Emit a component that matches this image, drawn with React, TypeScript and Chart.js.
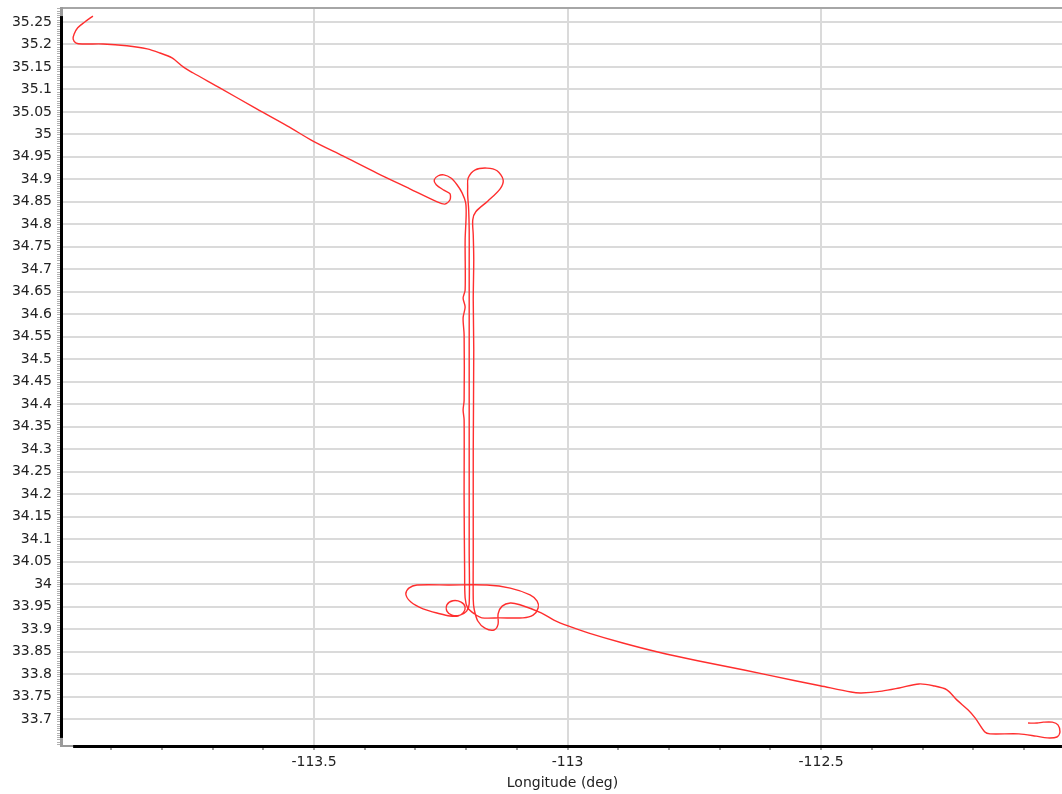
import React, { useEffect, useRef } from "react";
import { Chart, registerables } from "chart.js";

Chart.register(...registerables);

// Track longitude (deg), in flight order
const LON: number[] = [
  -113.936, -113.952, -113.966, -113.973, -113.975, -113.969, -113.956, -113.916,
  -113.869, -113.829, -113.804, -113.78, -113.758, -113.739, -113.685, -113.62,
  -113.553, -113.502, -113.443, -113.376, -113.311, -113.257, -113.242, -113.232,
  -113.232, -113.244, -113.259, -113.263, -113.255, -113.244, -113.23, -113.218,
  -113.208, -113.201, -113.2, -113.202, -113.202, -113.206, -113.202, -113.206,
  -113.204, -113.204, -113.206, -113.204, -113.204, -113.203, -113.202, -113.197,
  -113.184, -113.169, -113.133, -113.088, -113.068, -113.058, -113.06, -113.074,
  -113.113, -113.159, -113.232, -113.297, -113.313, -113.319, -113.309, -113.285,
  -113.252, -113.232, -113.216, -113.206, -113.202, -113.21, -113.226, -113.238,
  -113.238, -113.228, -113.212, -113.199, -113.194, -113.194, -113.194, -113.194,
  -113.194, -113.194, -113.195, -113.197, -113.197, -113.196, -113.182, -113.159,
  -113.139, -113.127, -113.133, -113.157, -113.181, -113.187, -113.186, -113.185,
  -113.186, -113.185, -113.186, -113.186, -113.186, -113.184, -113.177, -113.163,
  -113.145, -113.137, -113.137, -113.129, -113.113, -113.094, -113.052, -113.027,
  -112.999, -112.958, -112.891, -112.822, -112.741, -112.652, -112.551, -112.502,
  -112.441, -112.421, -112.38, -112.346, -112.307, -112.279, -112.252, -112.232,
  -112.21, -112.196, -112.177, -112.167, -112.11, -112.076, -112.054, -112.035,
  -112.029, -112.033, -112.044, -112.062, -112.074, -112.092,
];

// Track latitude (deg), same order
const LAT: number[] = [
  35.263, 35.25, 35.237, 35.223, 35.212, 35.203, 35.201, 35.201,
  35.197, 35.19, 35.181, 35.17, 35.15, 35.137, 35.103, 35.061,
  35.019, 34.985, 34.952, 34.914, 34.879, 34.85, 34.845, 34.854,
  34.868, 34.876, 34.888, 34.899, 34.908, 34.91, 34.903, 34.888,
  34.87, 34.848, 34.821, 34.765, 34.654, 34.636, 34.616, 34.592,
  34.554, 34.409, 34.387, 34.365, 34.187, 34.031, 33.969, 33.947,
  33.934, 33.925, 33.925, 33.925, 33.931, 33.947, 33.962, 33.976,
  33.991, 33.998, 33.998, 33.998, 33.991, 33.978, 33.96, 33.945,
  33.934, 33.929, 33.929, 33.936, 33.949, 33.96, 33.963, 33.954,
  33.94, 33.931, 33.931, 33.94, 33.956, 34.076, 34.298, 34.521,
  34.721, 34.788, 34.832, 34.865, 34.883, 34.903, 34.921, 34.925,
  34.919, 34.899, 34.879, 34.852, 34.828, 34.81, 34.776, 34.721,
  34.632, 34.521, 34.298, 34.076, 33.965, 33.943, 33.918, 33.902,
  33.898, 33.911, 33.934, 33.951, 33.958, 33.954, 33.936, 33.92,
  33.907, 33.891, 33.869, 33.849, 33.829, 33.809, 33.785, 33.774,
  33.76, 33.758, 33.762, 33.769, 33.778, 33.774, 33.765, 33.742,
  33.72, 33.702, 33.671, 33.667, 33.667, 33.662, 33.658, 33.66,
  33.671, 33.687, 33.693, 33.693, 33.691, 33.691,
];

const Y_TICKS: number[] = [
  33.7, 33.75, 33.8, 33.85, 33.9, 33.95, 34, 34.05, 34.1, 34.15, 34.2, 34.25,
  34.3, 34.35, 34.4, 34.45, 34.5, 34.55, 34.6, 34.65, 34.7, 34.75, 34.8, 34.85,
  34.9, 34.95, 35, 35.05, 35.1, 35.15, 35.2, 35.25,
];

const X_TICKS: number[] = [
  -113.9, -113.8, -113.7, -113.6, -113.5, -113.4, -113.3, -113.2, -113.1, -113,
  -112.9, -112.8, -112.7, -112.6, -112.5, -112.4, -112.3, -112.2, -112.1,
];

const X_LABELED: number[] = [-113.5, -113, -112.5];

const X_MIN = -113.995;
const X_MAX = -112.025;
const Y_MIN = 33.64;
const Y_MAX = 35.281;
const X_TITLE = "Longitude (deg)";

const FONT = "'DejaVu Sans', Verdana, sans-serif";

const isLabeled = (v: number) => X_LABELED.some((l) => Math.abs(l - v) < 1e-6);

const zeroPadding = (s: any) => {
  s.paddingTop = 0;
  s.paddingBottom = 0;
  s.paddingLeft = 0;
  s.paddingRight = 0;
};

const axesPlugin = {
  id: "rangeFrame",
  afterDraw(chart: any) {
    const { ctx, chartArea } = chart;
    const { left, top, right, bottom } = chartArea;
    const xs = chart.scales.x;
    const ys = chart.scales.y;
    ctx.save();
    // top frame
    ctx.fillStyle = "#a6a6a6";
    ctx.fillRect(left, top - 1, right - left, 2);
    // y axis minor ticks
    ctx.fillStyle = "#b0b0b0";
    for (let v = 33.645; v <= Y_MAX; v += 0.005) {
      const y = Math.round(ys.getPixelForValue(v));
      ctx.fillRect(left - 6, y, 3, 1);
    }
    // gray full-length axes
    ctx.fillStyle = "#9a9a9a";
    ctx.fillRect(left - 3, top - 1, 3, bottom - top + 2);
    ctx.fillRect(left - 3, bottom - 1, right - left + 3, 2);
    // black range frame over the data extent
    const minLat = Math.min(...LAT);
    const maxLat = Math.max(...LAT);
    const minLon = Math.min(...LON);
    const maxLon = Math.max(...LON);
    const yTop = ys.getPixelForValue(maxLat);
    const yBot = ys.getPixelForValue(minLat);
    const xL = xs.getPixelForValue(minLon);
    const xR = Math.min(right, xs.getPixelForValue(maxLon) + 2);
    ctx.fillStyle = "#000000";
    ctx.fillRect(left - 3, yTop, 3, yBot - yTop);
    ctx.fillRect(xL, bottom - 1, xR - xL, 3);
    ctx.restore();
  },
};

export default function App() {
  const ref = useRef<HTMLCanvasElement | null>(null);

  useEffect(() => {
    document.body.style.margin = "0";
    const canvas = ref.current;
    if (!canvas) return;
    const points = LON.map((x, i) => ({ x, y: LAT[i] }));
    const chart = new Chart(canvas, {
      type: "scatter",
      data: {
        datasets: [
          {
            data: points,
            showLine: true,
            borderColor: "#ff2e2e",
            borderWidth: 1.4,
            pointRadius: 0,
            pointHoverRadius: 0,
            tension: 0.3,
            fill: false,
          },
        ],
      },
      options: {
        animation: false,
        responsive: false,
        events: [],
        layout: { padding: { top: 8, right: 0, left: 0, bottom: 0 } },
        plugins: {
          legend: { display: false },
          tooltip: { enabled: false },
        },
        scales: {
          x: {
            type: "linear",
            min: X_MIN,
            max: X_MAX,
            afterBuildTicks: (s: any) => {
              s.ticks = X_TICKS.map((value) => ({ value }));
            },
            afterFit: (s: any) => {
              s.height = 48;
              zeroPadding(s);
            },
            border: { display: false },
            grid: {
              color: (c: any) => (c.tick && isLabeled(c.tick.value) ? "#dadada" : "rgba(0,0,0,0)"),
              lineWidth: 2,
              drawTicks: true,
              tickLength: 4,
              tickWidth: 2,
              tickColor: "#a0a0a0",
            },
            ticks: {
              autoSkip: false,
              maxRotation: 0,
              padding: 4,
              color: "#222222",
              font: { family: FONT, size: 14 },
              callback: (v: any) => (isLabeled(Number(v)) ? String(Number(v)) : ""),
            },
            title: {
              display: true,
              text: X_TITLE,
              color: "#222222",
              font: { family: FONT, size: 14 },
              padding: { top: 0, bottom: 2 },
            },
          },
          y: {
            type: "linear",
            min: Y_MIN,
            max: Y_MAX,
            afterBuildTicks: (s: any) => {
              s.ticks = Y_TICKS.map((value) => ({ value }));
            },
            afterFit: (s: any) => {
              s.width = 63;
              zeroPadding(s);
            },
            border: { display: false },
            grid: {
              color: "#dadada",
              lineWidth: 2,
              drawTicks: false,
            },
            ticks: {
              autoSkip: false,
              padding: 11,
              color: "#222222",
              font: { family: FONT, size: 14 },
              callback: (v: any) => String(Math.round(Number(v) * 100) / 100),
            },
          },
        },
      },
      plugins: [axesPlugin],
    });
    return () => chart.destroy();
  }, []);

  return (
    <div style={{ width: 1062, height: 794 }}>
      <canvas ref={ref} width={1062} height={794} style={{ display: "block" }} />
    </div>
  );
}
